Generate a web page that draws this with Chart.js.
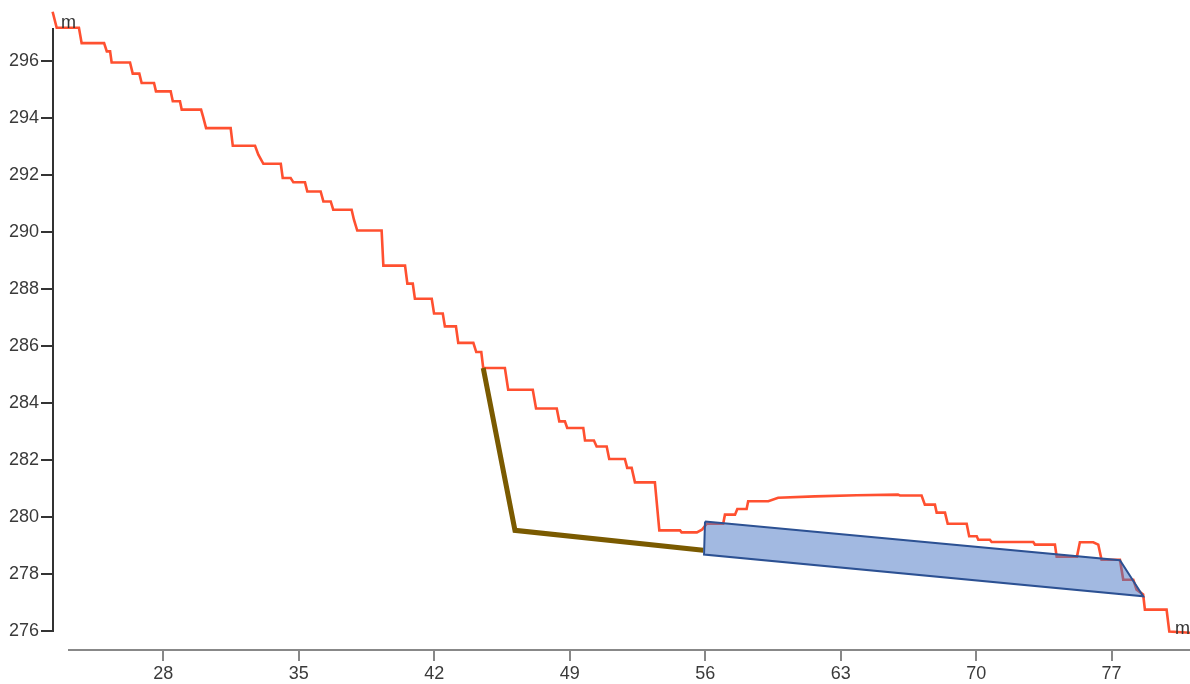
<!DOCTYPE html>
<html><head><meta charset="utf-8">
<script src="https://cdn.jsdelivr.net/npm/chart.js@4.4.1/dist/chart.umd.min.js"></script>
<style>html,body{margin:0;padding:0;background:#fff;}#wrap{width:1190px;height:684px;}</style>
</head><body><div id="wrap"><canvas id="c" width="1190" height="684"></canvas></div>
<script>
const xTicks = [28, 35, 42, 49, 56, 63, 70, 77];
const yTicks = [276, 278, 280, 282, 284, 286, 288, 290, 292, 294, 296];
const xRange = [22.30, 81.05];
const yRange = [275.38, 297.15];
const unitLabel = 'm';

const profileX = [22.28, 22.49, 23.64, 23.78, 24.94, 25.08, 25.25, 25.33, 26.28, 26.42,
  26.76, 26.88, 27.52, 27.62, 28.38, 28.49, 28.86, 28.95, 29.95, 30.05,
  30.21, 31.48, 31.59, 32.74, 32.91, 33.17, 34.07, 34.17, 34.58, 34.72,
  35.32, 35.44, 36.13, 36.27, 36.65, 36.78, 37.73, 37.85, 38.02, 39.28,
  39.37, 40.49, 40.61, 40.89, 41.00, 41.87, 41.99, 42.44, 42.55, 43.12,
  43.24, 44.02, 44.17, 44.43, 44.53, 45.65, 45.82, 47.09, 47.26, 48.33,
  48.46, 48.75, 48.87, 49.70, 49.79, 50.25, 50.39, 50.91, 51.04, 51.85,
  51.97, 52.20, 52.37, 53.40, 53.63, 54.70, 54.78, 55.57, 55.83, 56.08,
  56.93, 57.02, 57.54, 57.66, 58.14, 58.22, 59.26, 59.77, 61.67, 63.83,
  65.96, 66.06, 67.18, 67.35, 67.87, 67.96, 68.39, 68.53, 69.51, 69.64,
  70.03, 70.11, 70.71, 70.80, 72.95, 73.04, 74.07, 74.16, 75.21, 75.36,
  76.05, 76.31, 76.48, 77.43, 77.60, 78.12, 78.29, 78.63, 78.72, 79.84,
  79.98, 81.05];
const profileY = [297.72, 297.16, 297.16, 296.62, 296.62, 296.33, 296.33, 295.94, 295.94, 295.55,
  295.55, 295.22, 295.22, 294.93, 294.93, 294.58, 294.58, 294.29, 294.29, 294.05,
  293.64, 293.64, 293.02, 293.02, 292.71, 292.39, 292.39, 291.89, 291.89, 291.74,
  291.74, 291.42, 291.42, 291.07, 291.07, 290.78, 290.78, 290.43, 290.05, 290.05,
  288.82, 288.82, 288.19, 288.19, 287.66, 287.66, 287.14, 287.14, 286.69, 286.69,
  286.11, 286.11, 285.79, 285.79, 285.23, 285.23, 284.47, 284.47, 283.81, 283.81,
  283.36, 283.36, 283.13, 283.13, 282.69, 282.69, 282.48, 282.48, 282.04, 282.04,
  281.73, 281.73, 281.22, 281.22, 279.54, 279.54, 279.47, 279.47, 279.56, 279.77,
  279.77, 280.09, 280.09, 280.29, 280.29, 280.56, 280.56, 280.68, 280.73, 280.77,
  280.79, 280.76, 280.76, 280.44, 280.44, 280.16, 280.16, 279.77, 279.77, 279.33,
  279.33, 279.21, 279.21, 279.13, 279.13, 279.04, 279.04, 278.62, 278.62, 279.12,
  279.12, 279.04, 278.51, 278.51, 277.81, 277.81, 277.46, 277.29, 276.76, 276.76,
  275.99, 275.95];

const pipeX = [44.53, 46.17, 55.90];
const pipeY = [285.23, 279.54, 278.84];

const boxX = [55.99, 77.43, 78.63, 55.94, 55.99];
const boxY = [279.85, 278.49, 277.23, 278.69, 279.85];

const pts = (xs, ys) => xs.map((x, i) => ({x: x, y: ys[i]}));
const FONT = {family: '"Liberation Sans", Arial, sans-serif', size: 18};

const axisPlugin = {
  id: 'axisLines',
  beforeDatasetsDraw(chart) {
    const {ctx, chartArea, scales} = chart;
    ctx.save();
    ctx.lineWidth = 2;
    ctx.strokeStyle = '#333';
    ctx.beginPath();
    ctx.moveTo(chartArea.left, chartArea.top);
    ctx.lineTo(chartArea.left, Math.round(scales.y.getPixelForValue(yTicks[0])) + 1);
    ctx.stroke();
    ctx.strokeStyle = '#888';
    ctx.beginPath();
    ctx.moveTo(chartArea.left + 15, chartArea.bottom + 1);
    ctx.lineTo(chartArea.right, chartArea.bottom + 1);
    ctx.stroke();
    ctx.restore();
  },
  afterDatasetsDraw(chart) {
    const {ctx, chartArea, scales} = chart;
    ctx.save();
    ctx.font = FONT.size + 'px ' + FONT.family;
    ctx.fillStyle = '#333';
    ctx.textBaseline = 'alphabetic';
    ctx.textAlign = 'left';
    ctx.fillText(unitLabel, chartArea.left + 8, chartArea.top);
    ctx.textAlign = 'right';
    ctx.fillText(unitLabel, chartArea.right, scales.y.getPixelForValue(yTicks[0]) + 3);
    ctx.restore();
  }
};

new Chart(document.getElementById('c'), {
  type: 'line',
  data: {
    datasets: [
      {
        data: pts(boxX, boxY),
        borderColor: '#2c5193',
        borderWidth: 2,
        backgroundColor: 'rgba(70,115,195,0.5)',
        fill: 'shape',
        pointRadius: 0,
        tension: 0,
        clip: false,
        order: 1
      },
      {
        data: pts(pipeX, pipeY),
        borderColor: '#7a5a00',
        borderWidth: 5,
        fill: false,
        pointRadius: 0,
        tension: 0,
        clip: false,
        order: 2
      },
      {
        data: pts(profileX, profileY),
        borderColor: '#ff5030',
        borderWidth: 2.6,
        fill: false,
        pointRadius: 0,
        tension: 0,
        clip: false,
        order: 3
      }
    ]
  },
  options: {
    responsive: false,
    animation: false,
    devicePixelRatio: 1,
    events: [],
    layout: {padding: {top: 28, left: 0, right: 0, bottom: 0}},
    plugins: {legend: {display: false}, tooltip: {enabled: false}, title: {display: false}},
    scales: {
      x: {
        type: 'linear',
        position: 'bottom',
        min: xRange[0],
        max: xRange[1],
        afterBuildTicks: s => { s.ticks = xTicks.map(v => ({value: v})); },
        afterFit: s => { s.height = 35; },
        border: {display: false},
        grid: {drawOnChartArea: false, drawTicks: true, tickLength: 12, color: '#888', lineWidth: 2},
        ticks: {font: FONT, color: '#3a3a3a', padding: 2, maxRotation: 0, autoSkip: false}
      },
      y: {
        type: 'linear',
        position: 'left',
        min: yRange[0],
        max: yRange[1],
        afterBuildTicks: s => { s.ticks = yTicks.map(v => ({value: v})); },
        afterFit: s => { s.width = 53; },
        border: {display: false},
        grid: {drawOnChartArea: false, drawTicks: true, tickLength: 12, color: '#333', lineWidth: 2},
        ticks: {font: FONT, color: '#3a3a3a', padding: 2, autoSkip: false}
      }
    }
  },
  plugins: [axisPlugin]
});
</script>
</body></html>
